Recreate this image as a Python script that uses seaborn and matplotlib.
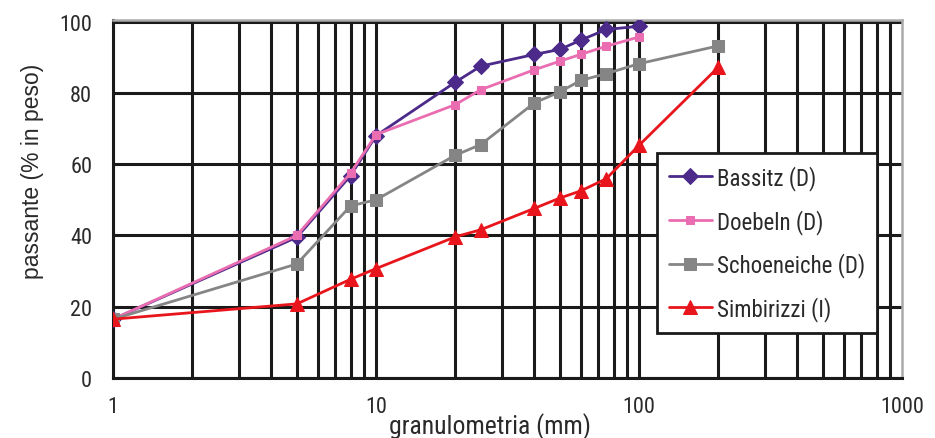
import matplotlib
matplotlib.use("Agg")
import matplotlib.pyplot as plt
import seaborn as sns
import pandas as pd
from matplotlib.ticker import LogLocator, FixedLocator, NullFormatter

sns.set_theme(style="white")
plt.rcParams['font.family'] = ["Liberation Sans", "DejaVu Sans"]
NARROW = ["Roboto Condensed", "Liberation Sans", "DejaVu Sans"]

# Data
size_a = [1, 5, 8, 10, 20, 25, 40, 50, 60, 75, 100]
bassitz = [16.5, 39.5, 56.8, 68, 83, 87.5, 90.8, 92.2, 94.8, 97.8, 98.7]
doebeln = [16.5, 40, 57.5, 68.3, 76.7, 80.9, 86.5, 88.9, 90.8, 93.1, 95.7]
size_b = [1, 5, 8, 10, 20, 25, 40, 50, 60, 75, 100, 200]
schoeneiche = [16.5, 32, 48.3, 50, 62.5, 65.5, 77.2, 80.3, 83.5, 85.4, 88.2, 93.2]
simbirizzi = [16.5, 20.8, 27.7, 30.7, 39.6, 41.6, 47.6, 50.5, 52.5, 55.9, 65.3, 87.2]
labels = ["Bassitz (D)", "Doebeln (D)", "Schoeneiche (D)", "Simbirizzi (I)"]
y_ticks = [0, 20, 40, 60, 80, 100]
x_ticks = [1, 10, 100, 1000]

fig = plt.figure(figsize=(9.35, 4.39), dpi=100)
ax = fig.add_axes([0.1209, 0.1367, 0.8439, 0.8166])

series = [
    (size_a, bassitz, "#4b2a8a", "D", 8, labels[0]),
    (size_a, doebeln, "#e96db0", "s", 6, labels[1]),
    (size_b, schoeneiche, "#858585", "s", 8, labels[2]),
    (size_b, simbirizzi, "#e8161c", "^", 10, labels[3]),
]
for xs, ys, col, mk, ms, lab in series:
    df = pd.DataFrame({"x": xs, "y": ys})
    sns.lineplot(data=df, x="x", y="y", ax=ax, color=col, marker=mk,
                 markersize=ms, markeredgecolor=col, linewidth=2,
                 label=lab, zorder=5)

ax.set_xscale("log")
ax.set_xlim(1, 1000)
ax.set_ylim(0, 100.6)
ax.xaxis.set_major_locator(FixedLocator(x_ticks))
ax.xaxis.set_minor_locator(LogLocator(base=10, subs=range(2, 10)))
ax.xaxis.set_minor_formatter(NullFormatter())
ax.set_xticks(x_ticks)
ax.set_xticklabels([str(v) for v in x_ticks])
ax.set_yticks(y_ticks)
ax.set_yticklabels([str(v) for v in y_ticks])

ax.grid(False)
for v in y_ticks:
    ax.axhline(v, color="#1a1a1a", lw=2.2, zorder=1)
for v in [1, 2, 3, 4, 5, 6, 7, 8, 9, 10, 20, 30, 40, 50, 60, 70, 80, 90, 100,
          200, 300, 400, 500, 600, 700, 800, 900]:
    ax.axvline(v, color="#1a1a1a", lw=2.2, zorder=1)

for s in ["top", "right"]:
    ax.spines[s].set_color("#aaaaaa")
    ax.spines[s].set_linewidth(1.8)
for s in ["left", "bottom"]:
    ax.spines[s].set_color("#1a1a1a")
    ax.spines[s].set_linewidth(2.2)

ax.tick_params(axis="y", which="major", direction="out", length=7, width=2.2,
               color="#1a1a1a", labelsize=16, pad=8)
ax.tick_params(axis="x", which="major", direction="out", length=7, width=2.2,
               color="#1a1a1a", labelsize=16, pad=6)
ax.tick_params(axis="x", which="minor", length=0)
for t in ax.get_xticklabels() + ax.get_yticklabels():
    t.set_fontfamily(NARROW)
    t.set_color("#2a2a2a")

ax.set_xlabel("granulometria (mm)", fontsize=18.5, color="#2a2a2a",
              fontfamily=NARROW, labelpad=0)
ax.xaxis.set_label_coords(0.478, -0.094)
ax.set_ylabel("passante (% in peso)", fontsize=16.5, color="#2a2a2a")
ax.yaxis.set_label_coords(-0.088, 0.58)

leg = ax.legend(loc="upper left", bbox_to_anchor=(0.7027, 0.6492),
                bbox_transform=fig.transFigure, borderaxespad=0,
                frameon=True, fancybox=False, edgecolor="#1a1a1a", framealpha=1,
                prop={"family": NARROW, "size": 16.5},
                handlelength=1.88, labelspacing=0.82, borderpad=0.52,
                handletextpad=0.22)
leg.get_frame().set_linewidth(2)
leg.set_zorder(10)
for t in leg.get_texts():
    t.set_color("#2a2a2a")

fig.savefig("out.png", dpi=100)
